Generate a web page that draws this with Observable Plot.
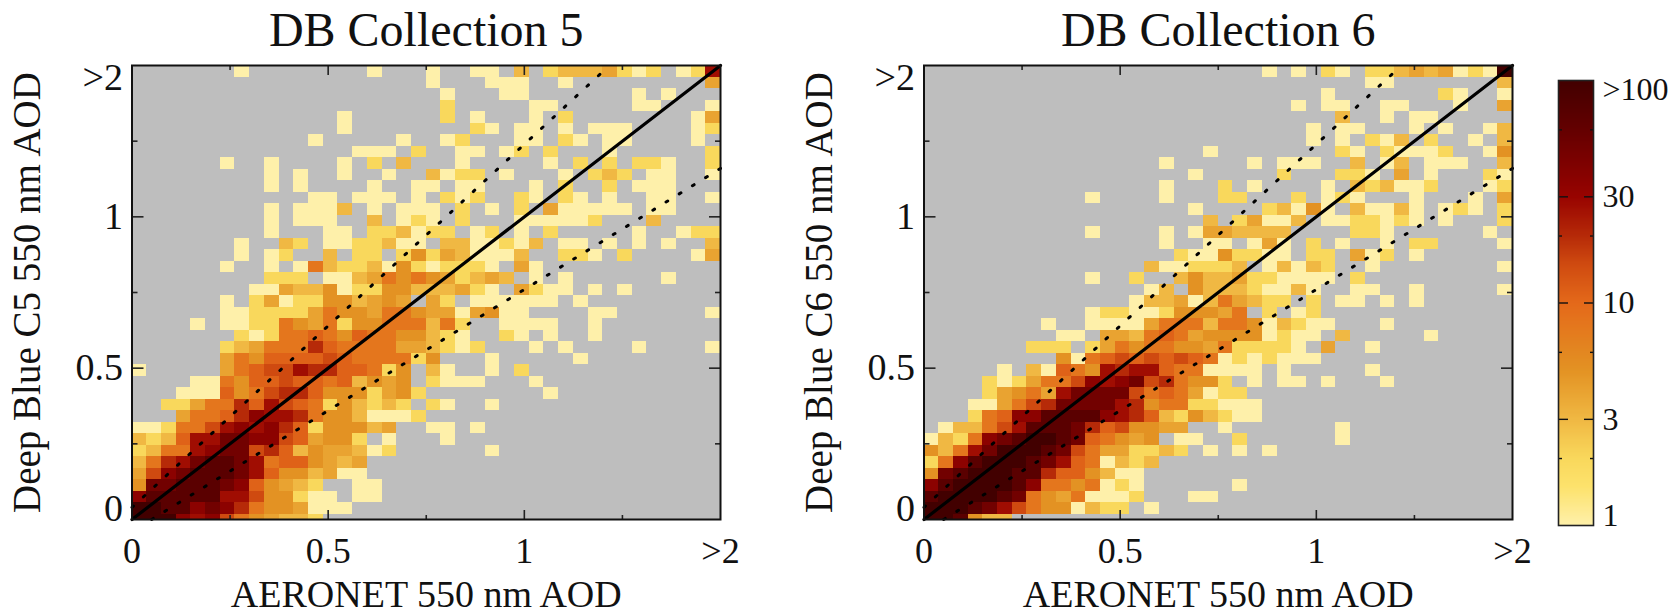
<!DOCTYPE html>
<html><head><meta charset="utf-8">
<script src="https://cdn.jsdelivr.net/npm/d3@7"></script>
<script src="https://cdn.jsdelivr.net/npm/@observablehq/plot@0.6"></script>
<style>
html,body{margin:0;padding:0;background:#fff;width:1676px;height:614px;overflow:hidden}
#chart{position:relative;width:1676px;height:614px}
#chart svg{position:absolute;top:0;overflow:visible;background:transparent}
</style></head><body><div id="chart"></div>
<script>
// One code per cell: "." = no match-ups, otherwise an index into levelCounts.
const levelCodes = "123456789abcde";
const levelCounts = [1,2,3,4,5,8,11,15,20,27,35,50,70,100];
const c5 = [
".......1.. ......1... 1..11.3.23 334212.12a",
".......... .......... 1...111..1 .........4",
".......... .......... .1...11... ....1.1...",
".......... .......... .2.....11. ....11...1",
".......... ....1..... .2.1...1.2 ........14",
".......... ....1..... ...21.11.1 .111....12",
".......... ..1.....1. .12...11.2 1.11....1.",
".......... .....111.2 ..11.12.2. ..1......2",
"......1..1 ....1.2.3. ..1.....1. 2.2.221..2",
".........1 .1..1..1.. 3122.1...1 .232.11..1",
".........1 .1....1..1 1.11...1.2 ..2.111...",
".......... ..11.111.1 .212..21.2 1.1..11..1",
".........1 .1113.1.11 1.2.1.2.41 1111.11...",
".........1 .111..3.12 1.2...1111 12...3....",
".........1 ...11.2231 22.12.1.2. ....1..122",
".......1.. 32.1122311 .33112 13.1 1.1.1.1..3",
".......1.1 2..3.22.25 2431113..2 21.2....14",
"......1..1 .163223152 12221.41.. ..........",
".........2 22.1134656 542343.1.1 ......1...",
"........11 4335122553 33421.4211 .1.1......",
"......1.24 1225534 54. 42.111111. 1.........",
"......1122 2246554665 4414511... .11......1",
"....1.1122 6546255666 362..1111. .1........",
".......212 6676576655 321..21.1. .1........",
"......2346 6697666644 3212...1.1 ....1....1",
"......4657 7778766662 5...1..... 1.........",
"1.....4678 8a99776 25. 31..1.2... ..........",
"....116577 877673545. 2111...1.. ..........",
"...1117568 9975552452 ........1. ..........",
"..224669 7a 8762532 32. 21..1..... ..........",
"...46679ba a965531 112 .......... ..........",
"11266 8abab 97255534.. 11.1...... ..........",
"3237aaccbb 874552.1.. .1........ ..........",
"2366abcc89 73544312.. ....1..... ..........",
"369acddca6 775434.... .......... ..........",
"48bcdddca7 553411.... .......... ..........",
"5ccdddcb75 432..11... .......... ..........",
"bdddddaa85 5211.11... .......... ..........",
"eeddbcb965 54111..... .......... ..........",
"eeebab8654 332....... .......... .........."
];
const c6 = [
".......... .......... ...1.1.21. 223434121e",
".......... .......... .......... 11.......3",
".......... .......... .......1.. .....21..1",
".......... .......... .....1.11. .11...1..4",
".......... .......... ........3. .1.11.....",
".......... .......... ......1.11 ...1.1..13",
".......... .......... ......1.1. 213.2..1.3",
".......... .........1 ........21 .21112..15",
".......... ......1... ..1.111..3 .13.111..3",
".......... ........1. ....2...22 1.4.1...21",
".......... ......1... 2.1....1.3 23112...12",
".......... .1....1... 22...2.121 ...1...1.4",
".......... ........1. ...23151.3 1131.121.2",
".......... .........3 .24113.112 2121.1...2",
".......... .1....1.14 43333....2 21......1.",
".......... ......1..1 1.141.2.1. .1.22....1",
".......... .......211 52211.22.4 12.1......",
".......... .....31122 23.13132.. 1........1",
".......... .1..2..353 34221111.2 ..........",
".......... .....13.53 3321131..1 1..1.....1",
".......... ....133413 64322.2.11 .1.1......",
".......... .122112555 46.2.12... ..........",
"........1. .111146663 66513211.. .1........",
".........1 1.44367645 5551211.3. ....1.....",
".......222 .246566554 622221.4.. 1.........",
".........5 1678787876 1212111... ..........",
".....1.317 65a9aa7661 111.1..... 1.........",
"....212466 8babc89655 2.1.11.1.. .1........",
"....24564a cccc867641 22........ ..........",
"...114689c ccca956622 111....... ..........",
"...267bbdd ddba973253 211....... ..........",
".13368addd c9785544.. 1.......1. ..........",
"1326bcdeed c76545.11. .2......1. ..........",
"536aceeedc 86442232.1 .1.1...... ..........",
"26bdeeedca 761323.... .......... ..........",
"5cdeeedd97 75311..... .......... ..........",
"bdeeeedb66 56121..... .1........ ..........",
"deeeedc654 61112...11 .......... ..........",
"eeedca8655 1322.1.... .......... ..........",
"eed533.... .......... .......... .........."
];
const axisTop = 1.5;          // position labelled ">2"
const binX = 0.0375, binY = 0.038;
const majorTicks = [0, 0.5, 1, 1.5];
const innerMajor = [0.5, 1];
const minorTicks = [0.25, 0.75, 1.25];
const oneToOneX = [0, 1.5], oneToOneY = [0, 1.5];
const upperX = [0, 1.217], upperY = [0.04, 1.5];
const lowerX = [0.05, 1.5], lowerY = [0, 1.16];
const barMajor = [3, 10, 30], barMinor = [2, 6, 20, 60];
const barLabels = [3, 10, 30];
const colorDomain = [1, 1.5, 2, 3, 5, 10, 15, 20, 30, 60, 100];
const colorRange = ["#FEF0AA","#FDE26C","#F9D85C","#F0B843","#E39223","#E4691A","#CF4A10","#B62A08","#980300","#640000","#420000"];

const serif = "'Liberation Serif','Times New Roman',serif";
const ink = "#111";
const colorScale = {type:"log", domain:colorDomain, range:colorRange, clamp:true};
const fmt = v => v === 1.5 ? ">2" : String(v);

function cells(rows){
  const out = [];
  rows.forEach((r, j) => {
    [...r.replace(/ /g, "")].forEach((ch, i) => {
      const k = levelCodes.indexOf(ch);
      if (k < 0) return;
      out.push({x1:i*binX, x2:(i+1)*binX, y2:axisTop-j*binY, y1:Math.max(0, axisTop-(j+1)*binY), count:levelCounts[k]});
    });
  });
  return out;
}
function pairs(xs, ys){ return xs.map((x,i)=>({x, y:ys[i]})); }

function panel(rows, title, ylabel, left){
  const frameStyle = {stroke:ink, strokeWidth:2};
  const dotted = {x:"x",y:"y",stroke:"#000",strokeWidth:3,strokeLinecap:"round",strokeDasharray:"2,13.5"};
  const tick = (axis, anchor, ticks, size) => axis({anchor, ticks, tickSize:-size, fill:"none", label:null, stroke:"#222", strokeWidth:1.6});
  const svg = Plot.plot({
    width:760, height:614, marginLeft:131.5, marginRight:40, marginTop:65, marginBottom:95,
    x:{domain:[0,axisTop]}, y:{domain:[0,axisTop]}, color:colorScale,
    style:{fontFamily:serif, overflow:"visible", background:"transparent", color:ink},
    marks:[
      Plot.frame({fill:"#BEBEBE", stroke:null}),
      Plot.rect(cells(rows),{x1:"x1",x2:"x2",y1:"y1",y2:"y2",fill:"count",shapeRendering:"crispEdges"}),
      Plot.line(pairs(upperX,upperY),dotted),
      Plot.line(pairs(lowerX,lowerY),dotted),
      Plot.line(pairs(oneToOneX,oneToOneY),{x:"x",y:"y",stroke:"#000",strokeWidth:3.2}),
      tick(Plot.axisX,"bottom",innerMajor,9), tick(Plot.axisX,"top",innerMajor,9),
      tick(Plot.axisX,"bottom",minorTicks,4), tick(Plot.axisX,"top",minorTicks,4),
      tick(Plot.axisY,"left",innerMajor,12), tick(Plot.axisY,"right",innerMajor,12),
      tick(Plot.axisY,"left",minorTicks,6), tick(Plot.axisY,"right",minorTicks,6),
      Plot.frame(frameStyle),
      Plot.axisX({anchor:"bottom", ticks:majorTicks, tickFormat:fmt, tickSize:0, tickPadding:18, fontSize:36, fill:ink, label:null}),
      Plot.text(["AERONET 550 nm AOD"],{text:d=>d, frameAnchor:"bottom", dy:87, lineAnchor:"bottom", fontSize:38, fill:ink}),
      Plot.axisY({anchor:"left", ticks:[0.5,1], tickFormat:fmt, tickSize:0, tickPadding:9, fontSize:38, fill:ink, label:null}),
      Plot.axisY({anchor:"left", ticks:[0], tickFormat:fmt, tickSize:0, tickPadding:9, fontSize:38, fill:ink, label:null, dy:-11}),
      Plot.axisY({anchor:"left", ticks:[1.5], tickFormat:fmt, tickSize:0, tickPadding:9, fontSize:38, fill:ink, label:null, dy:12}),
      Plot.text([ylabel],{text:d=>d, frameAnchor:"left", rotate:-90, dx:-104, fontSize:39, fill:ink, textAnchor:"middle"}),
      Plot.text([title],{text:d=>d, frameAnchor:"top", dy:-20, lineAnchor:"bottom", fontSize:48, fill:ink})
    ]
  });
  svg.style.left = left + "px";
  return svg;
}

function colorbar(){
  const steps = d3.range(0, 400).map(i => ({v0:Math.pow(10, i/200), v1:Math.pow(10, (i+1)/200)}));
  const tick = (anchor, ticks, size) => Plot.axisY({anchor, ticks, tickSize:-size, fill:"none", label:null, stroke:"#111", strokeWidth:1.4});
  const lab = (ticks, format, dy) => Plot.axisY({anchor:"right", ticks, tickFormat:format, tickSize:0, tickPadding:9, fontSize:32, fill:ink, label:null, dy});
  const svg = Plot.plot({
    width:128, height:614, marginLeft:10, marginRight:83, marginTop:80, marginBottom:89,
    x:{domain:[0,1], axis:null}, y:{type:"log", domain:[1,100]}, color:colorScale,
    style:{fontFamily:serif, overflow:"visible", background:"transparent", color:ink},
    marks:[
      Plot.rect(steps,{x1:0,x2:1,y1:"v0",y2:"v1",fill:"v1",shapeRendering:"crispEdges"}),
      tick("left",barMajor,10), tick("right",barMajor,10),
      tick("left",barMinor,4), tick("right",barMinor,4),
      Plot.frame({stroke:"#222", strokeWidth:1.6}),
      lab(barLabels, d=>String(d), 0),
      lab([1], d=>String(d), -10),
      lab([100], ()=>">100", 9)
    ]
  });
  svg.style.left = "1548px";
  return svg;
}

const host = document.getElementById("chart");
host.append(
  panel(c5, "DB Collection 5", "Deep Blue C5 550 nm AOD", 0),
  panel(c6, "DB Collection 6", "Deep Blue C6 550 nm AOD", 792),
  colorbar()
);
</script></body></html>
